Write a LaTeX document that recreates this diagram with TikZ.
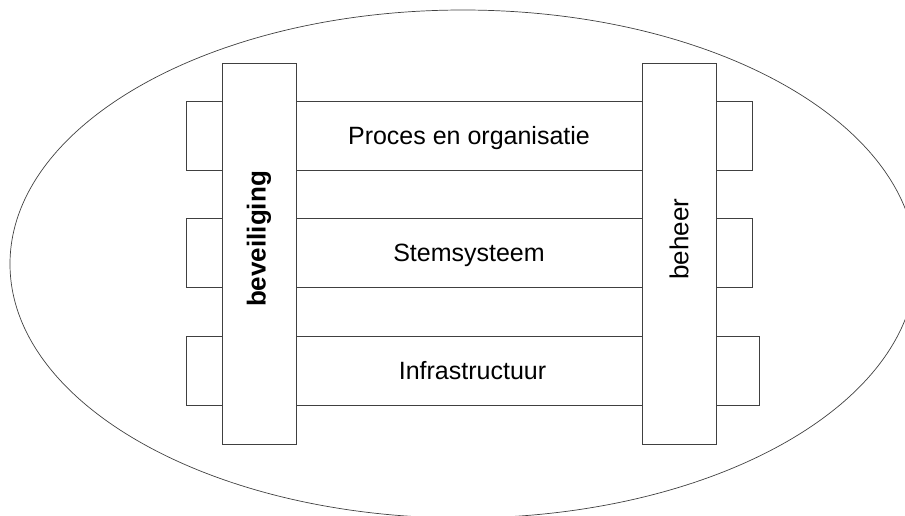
\documentclass[tikz,border=0pt]{standalone}
\usepackage{fontspec}
\setmainfont{Liberation Sans}
\usetikzlibrary{shapes.geometric}
\tikzset{
  ln/.style={draw=black!75, line width=0.7pt},
  band/.style={ln, rectangle, inner sep=0pt, minimum height=69pt, text height=17pt, text depth=0pt, font=\fontsize{25}{30}\selectfont},
  bar/.style={ln, fill=white, rectangle, inner sep=0pt, minimum width=74pt, minimum height=381pt},
  vlabel/.style={rotate=90, inner sep=0pt, font=\fontsize{26}{30}\selectfont}
}
\begin{document}
\begin{tikzpicture}[x=1pt,y=-1pt]
\useasboundingbox (0,0) rectangle (905,515);
\begin{scope}
\clip (0,0) rectangle (905,515);
\node[ln, ellipse, inner sep=0pt, minimum width=906pt, minimum height=508pt] (outer) at (463,264) {};
\end{scope}
\node[band, minimum width=566pt] (proces) at (469,135.5) {Proces en organisatie};
\node[band, minimum width=566pt] (stem) at (469,253) {Stemsysteem};
\node[band, minimum width=573pt] (infra) at (472.5,371) {Infrastructuur};
\node[bar] (bev) at (259,253.5) {};
\node[bar] (beh) at (679,253.5) {};
\node[vlabel, font=\fontsize{26}{30}\selectfont\bfseries] (bevl) at (259,239) {beveiliging};
\node[vlabel] (behl) at (679,239) {beheer};
\end{tikzpicture}
\end{document}
